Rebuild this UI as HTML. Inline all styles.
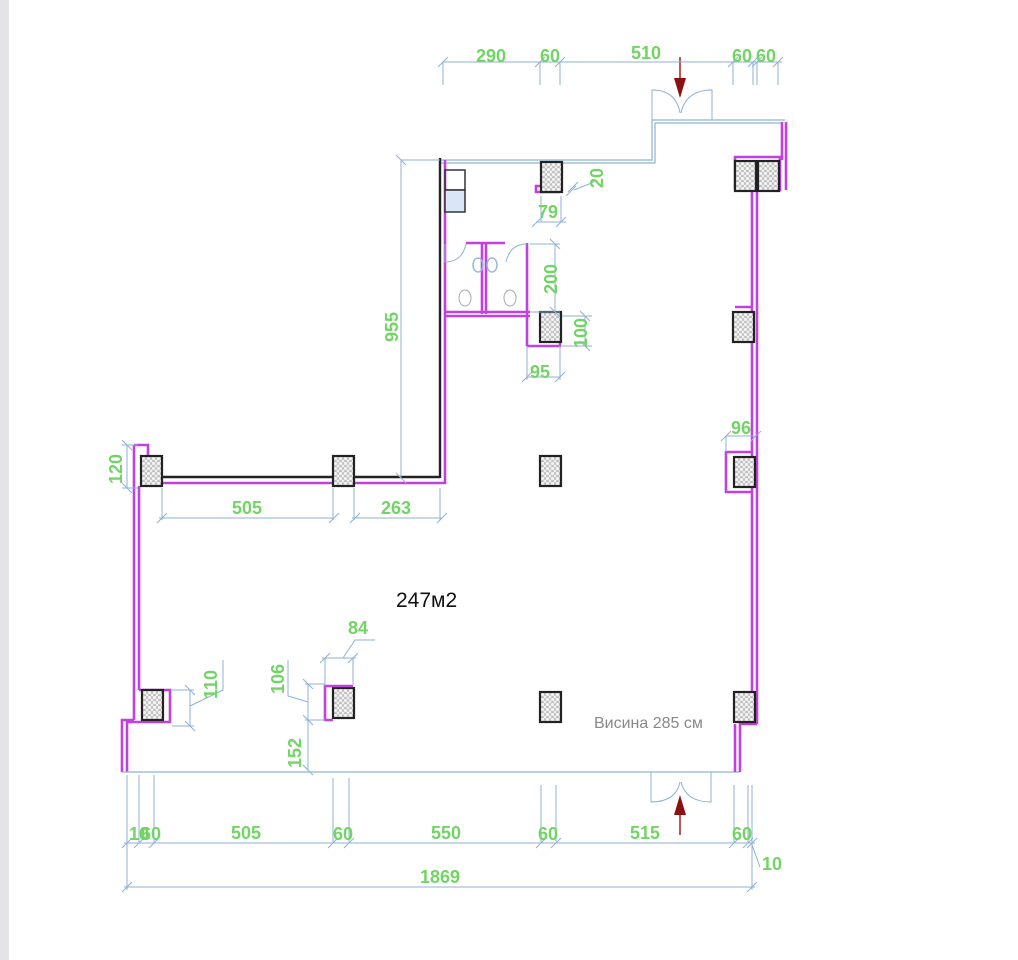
<!DOCTYPE html>
<html><head><meta charset="utf-8"><style>
html,body{margin:0;padding:0;background:#fff;}
svg{display:block}
.d{stroke:#8fb2d4;stroke-width:1;fill:none}
.t{fill:#72d464;font-family:"Liberation Sans",sans-serif;font-weight:bold;font-size:18px}
.m{stroke:#c040e0;stroke-width:2.6;fill:none}
.k{stroke:#222;stroke-width:2.4;fill:none}
.b{stroke:#8fb2d4;stroke-width:1.2;fill:none}
</style></head><body>
<svg width="1018" height="960" viewBox="0 0 1018 960" xmlns="http://www.w3.org/2000/svg">
<defs>
<pattern id="h" width="5" height="5" patternUnits="userSpaceOnUse">
<rect width="5" height="5" fill="#f4f4f4"/>
<circle cx="2.5" cy="2.5" r="2" fill="none" stroke="#aaa" stroke-width="0.7"/>
</pattern>
<g id="col"><rect x="0" y="0" width="21" height="30" fill="url(#h)" stroke="#222" stroke-width="2.2"/></g>
</defs>
<rect x="0" y="0" width="9" height="960" fill="#e4e4e8"/>

<polyline class="b" points="440,160 652,160 652,120 785,120"/>
<polyline class="b" points="440,163 655,163 655,123 783,123"/>
<path class="d" d="M652,120 V90 Q676,90 680,113 M712,120 V90 Q686,90 681,113 M652,90 h4 M708,90 h4"/>
<line x1="680" y1="57" x2="680" y2="80" stroke="#a02020" stroke-width="1.5"/>
<polygon points="674,78 686,78 680,98" fill="#8b1010"/>

<line class="k" x1="440" y1="158" x2="440" y2="478"/>
<line class="m" x1="445" y1="160" x2="445" y2="484"/>
<line class="k" x1="162" y1="477" x2="440" y2="477"/>
<line class="m" x1="162" y1="483" x2="446" y2="483"/>
<polyline class="m" points="134,445 148,445 148,456"/>
<line class="m" x1="134" y1="445" x2="134" y2="720"/>
<line class="m" x1="139" y1="486" x2="139" y2="690"/>
<polyline class="m" points="139,690 170,690 170,722 127,722 127,772"/>
<polyline class="m" points="134,720 122,720 122,772"/>
<line class="b" x1="122" y1="772" x2="740" y2="772"/>
<line class="m" x1="752" y1="190" x2="752" y2="692"/>
<line class="m" x1="757" y1="190" x2="757" y2="724"/>
<polyline class="m" points="735,190 735,157 780,157 780,190 757,190"/>
<line class="m" x1="782" y1="122" x2="782" y2="160"/>
<line class="m" x1="786" y1="122" x2="786" y2="190"/>
<polyline class="m" points="757,724 740,724 740,772"/>
<line class="m" x1="735" y1="724" x2="735" y2="772"/>
<polyline class="m" points="735,307 752,307"/>
<polyline class="m" points="752,452 726,452 726,492 752,492"/>
<line class="m" x1="445" y1="312" x2="530" y2="312"/>
<line class="m" x1="445" y1="316" x2="530" y2="316"/>
<line class="m" x1="466" y1="243" x2="505" y2="243"/>
<line class="m" x1="482" y1="243" x2="482" y2="314"/>
<line class="m" x1="486" y1="243" x2="486" y2="314"/>
<line class="m" x1="527" y1="243" x2="527" y2="346"/>
<polyline class="m" points="527,346 560,346 560,316"/>
<path class="d" d="M445,244 V262 Q462,262 466,244 M527,244 Q510,244 506,262"/>
<ellipse cx="478" cy="265" rx="5" ry="7" fill="none" stroke="#9ab8dc" stroke-width="1.5"/>
<ellipse cx="492" cy="265" rx="5" ry="7" fill="none" stroke="#9ab8dc" stroke-width="1.5"/>
<ellipse cx="465" cy="298" rx="6" ry="8" fill="none" stroke="#aaa"/>
<ellipse cx="510" cy="298" rx="6" ry="8" fill="none" stroke="#aaa"/>
<rect x="445" y="170" width="20" height="20" fill="none" stroke="#333" stroke-width="1.5"/>
<rect x="445" y="190" width="20" height="22" fill="#d8e6f8" stroke="#333" stroke-width="1.5"/>
<polyline class="m" points="560,192 536,192 536,186 540,186"/>
<use href="#col" x="141" y="456"/>
<use href="#col" x="333" y="456"/>
<use href="#col" x="540" y="456"/>
<use href="#col" x="735" y="161"/>
<use href="#col" x="758" y="161"/>
<use href="#col" x="541" y="162"/>
<use href="#col" x="540" y="312"/>
<use href="#col" x="733" y="312"/>
<use href="#col" x="734" y="457"/>
<use href="#col" x="142" y="690"/>
<use href="#col" x="333" y="688"/>
<use href="#col" x="540" y="692"/>
<use href="#col" x="734" y="692"/>
<polyline class="m" points="353,686 325,686 325,720 333,720"/>

<path class="d" d="M651,772 V802 Q676,802 680,782 M711,772 V802 Q686,802 681,782"/>
<line x1="680" y1="835" x2="680" y2="812" stroke="#a02020" stroke-width="1.5"/>
<polygon points="674,815 686,815 680,795" fill="#8b1010"/>

<g class="d">
<line x1="443" y1="62" x2="782" y2="62"/>
<path d="M443,62 V85 M540,62 V85 M560,62 V85 M733,62 V85 M753,62 V85 M757,62 V85 M778,62 V85"/>
<path d="M438,67 l10,-10 M535,67 l10,-10 M555,67 l10,-10 M728,67 l10,-10 M748,67 l10,-10 M752,67 l10,-10 M773,67 l10,-10"/>
<line x1="401" y1="160" x2="401" y2="478"/>
<line x1="401" y1="160" x2="440" y2="160"/>
<path d="M396,155 l10,10 M396,473 l10,10"/>
<path d="M541,196 V222 M561,196 V222 M536,222 h30 M532,227 l10,-10 M556,227 l10,-10 M566,196 l10,-10 M568,192 l10,-10 M574,190 l20,-8"/>
<path d="M530,244 h30 M530,312 h30 M555,244 V312 M550,239 l10,10 M550,307 l10,10"/>
<path d="M562,316 h30 M562,346 h30 M585,316 V346 M580,311 l10,10 M580,341 l10,10"/>
<path d="M527,346 V380 M560,346 V380 M527,377 h33 M522,382 l10,-10 M555,382 l10,-10"/>
<path d="M726,436 h30 M726,436 V452 M721,441 l10,-10 M751,441 l10,-10"/>
<path d="M122,445 h16 M122,488 h16 M127,445 V488 M122,440 l10,10 M122,483 l10,10"/>
<path d="M162,488 V520 M333,488 V520 M354,488 V520 M440,488 V520 M159,518 h175 M352,518 h90 M157,523 l10,-10 M329,523 l10,-10 M350,523 l10,-10 M437,523 l10,-10"/>
<path d="M172,690 h22 M172,726 h22 M190,690 V726 M185,685 l10,10 M185,721 l10,10 M190,706 l33,-16 V660"/>
<path d="M325,686 V658 M353,686 V658 M322,658 h34 M320,663 l10,-10 M348,663 l10,-10 M343,658 l12,-18 h20"/>
<path d="M305,684 h20 M305,720 h20 M308,684 V770 M303,679 l10,10 M303,715 l10,10 M303,765 l10,10 M308,702 l-20,-6 V660"/>
<path d="M127,775 V842 M139,775 V842 M154,775 V842 M333,778 V842 M349,778 V842 M541,785 V842 M556,785 V842 M734,785 V842 M748,785 V842 M752,785 V890"/>
<line x1="124" y1="843" x2="755" y2="843"/>
<path d="M122,848 l10,-10 M134,848 l10,-10 M149,848 l10,-10 M328,848 l10,-10 M344,848 l10,-10 M536,848 l10,-10 M551,848 l10,-10 M729,848 l10,-10 M743,848 l10,-10 M747,848 l10,-10 M752,845 l8,22"/>
<line x1="124" y1="887" x2="755" y2="887"/>
<path d="M127,843 V890 M122,892 l10,-10 M747,892 l10,-10"/>
</g>

<g class="t">
<text x="476" y="62">290</text>
<text x="540" y="62">60</text>
<text x="631" y="59">510</text>
<text x="732" y="62">60</text>
<text x="756" y="62">60</text>
<text x="538" y="218">79</text>
<text x="0" y="0" transform="translate(603,188) rotate(-90)">20</text>
<text x="0" y="0" transform="translate(557,294) rotate(-90)">200</text>
<text x="0" y="0" transform="translate(587,348) rotate(-90)">100</text>
<text x="530" y="378">95</text>
<text x="731" y="434">96</text>
<text x="0" y="0" transform="translate(398,342) rotate(-90)">955</text>
<text x="0" y="0" transform="translate(122,484) rotate(-90)">120</text>
<text x="232" y="514">505</text>
<text x="381" y="514">263</text>
<text x="348" y="634">84</text>
<text x="0" y="0" transform="translate(284,694) rotate(-90)">106</text>
<text x="0" y="0" transform="translate(217,699) rotate(-90)">110</text>
<text x="0" y="0" transform="translate(301,768) rotate(-90)">152</text>
<text x="129" y="840">10</text>
<text x="141" y="840">60</text>
<text x="231" y="839">505</text>
<text x="333" y="840">60</text>
<text x="431" y="839">550</text>
<text x="538" y="840">60</text>
<text x="630" y="839">515</text>
<text x="732" y="840">60</text>
<text x="762" y="870">10</text>
<text x="420" y="883">1869</text>
</g>
<text x="396" y="607" font-family="Liberation Sans,sans-serif" font-size="21" fill="#111">247м2</text>
<text x="594" y="728" font-family="Liberation Sans,sans-serif" font-size="16" fill="#888">Висина 285 см</text>
</svg>
</body></html>
